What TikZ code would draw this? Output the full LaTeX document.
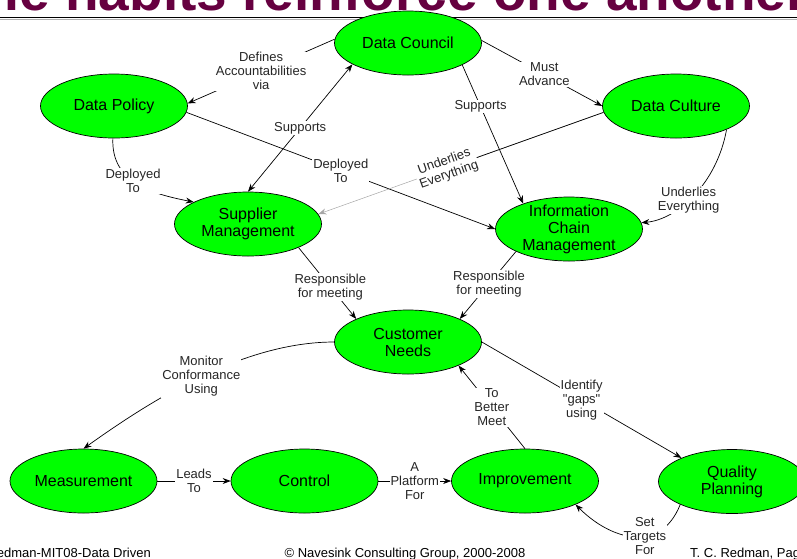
\documentclass[tikz,border=0pt]{standalone}
\usepackage{fontspec}
\setmainfont{Liberation Sans}
% same face without TeX ligatures, for straight quotation marks
\newfontfamily\straightq{Liberation Sans}
\usetikzlibrary{shapes.geometric,arrows.meta}
\definecolor{bubblegreen}{RGB}{0,255,0}
\definecolor{titlemaroon}{RGB}{102,0,64}

\begin{document}
\begin{tikzpicture}[x=1pt,y=-1pt,
  bubble/.style={ellipse, draw=black, line width=0.7pt, fill=bubblegreen,
    minimum width=147pt, minimum height=64pt, inner sep=0pt, align=center,
    font=\fontsize{16}{17}\selectfont},
  link/.style={draw=black, line width=0.7pt, -{Stealth[length=8pt,width=6pt]}},
  both/.style={link, {Stealth[length=8pt,width=6pt]}-{Stealth[length=8pt,width=6pt]}},
  tag/.style={fill=white, inner sep=1pt, align=center,
    font=\fontsize{13}{14}\selectfont, text=black!85},
  foot/.style={font=\fontsize{13}{14}\selectfont, inner sep=0pt, anchor=base}]
\useasboundingbox (0,0) rectangle (797,558);
\clip (0,0) rectangle (797,558);

% heading and rule
\node[anchor=base west, inner sep=0pt, font=\fontsize{55}{60}\selectfont\bfseries,
  text=titlemaroon] (title) at (-48,10) {The habits reinforce one another};
\draw[gray!60, line width=1.5pt] (0,19.5) -- (797,19.5);
\draw[black, line width=1pt] (0,17.5) -- (797,17.5);

% the ten habits
\node[bubble] (dc)  at (408,43)    {Data Council};
\node[bubble] (dp)  at (114,106)   {Data Policy};
\node[bubble] (dcu) at (676,106)   {Data Culture};
\node[bubble] (sm)  at (248,224)   {Supplier\\Management};
\node[bubble, inner ysep=-4pt] (icm) at (569,229) {Information\\Chain\\Management};
\node[bubble] (cn)  at (408,342)   {Customer\\Needs};
\node[bubble] (ms)  at (83.5,481)  {Measurement};
\node[bubble] (ctl) at (304.5,481) {Control};
\node[bubble] (imp) at (525,481)   {Improvement};
\node[bubble] (qp)  at (732,481.5) {Quality\\Planning};

% how they reinforce one another
\draw[link] (dc.177) -- node[tag] {Defines\\Accountabilities\\via} (dp.2);
\draw[link] (dc.2) -- node[tag, pos=0.52] {Must\\Advance} (dcu.180);
\draw[link] (dc.-22) -- node[tag, pos=0.3] {Supports} (icm.151);
\draw[both] (sm.90) -- node[tag] {Supports} (dc.201);
\draw[link] (dp.-5) -- node[tag] {Deployed\\To} (icm.180);
\draw[link] (dp.-92) .. controls +(-2,45) and +(-40,-8) ..
  node[tag, pos=0.45] {Deployed\\To} (sm.158);

\draw[gray!70, line width=0.5pt, -{Stealth[length=8pt,width=6pt]}] (dcu.185) --
  node[tag, sloped, pos=0.55] (ue) {Underlies\\Everything} (sm.8);
\draw[line width=0.7pt] (dcu.185) -- (ue);

\draw[link] (dcu.-25) .. controls +(-10,55) and +(35,-3) ..
  node[tag, pos=0.55] {Underlies\\Everything} (icm.5);

\draw[link] (sm.-25) -- node[tag, pos=0.55] {Responsible\\for meeting} (cn.156);
\draw[link] (icm.203) -- node[tag, pos=0.48] {Responsible\\for meeting} (cn.24);

\draw[link] (cn.180) .. controls +(-90,0) and +(70,-50) ..
  node[tag] {Monitor\\Conformance\\Using} (ms.90);
\draw[link] (cn.0) -- node[tag] {Identify\\{\straightq"gaps"}\\using} (qp.155);
\draw[link] (imp.90) -- node[tag] {To\\Better\\Meet} (cn.-25);

\draw[link] (ms.0) -- node[tag] {Leads\\To} (ctl.180);
\draw[link] (ctl.0) -- node[tag] {A\\Platform\\For} (imp.180);
\draw[link] (qp.204) .. controls +(-20,50) and +(35,35) ..
  node[tag, pos=0.4] {Set\\Targets\\For} (imp.-25);

% footer line
\node[foot, anchor=base east] (f1) at (151,557) {Redman-MIT08-Data Driven};
\node[foot] (f2) at (405,557) {\textcopyright{} Navesink Consulting Group, 2000-2008};
\node[foot, anchor=base west] (f3) at (690,557) {T. C. Redman, Page};
\end{tikzpicture}
\end{document}
